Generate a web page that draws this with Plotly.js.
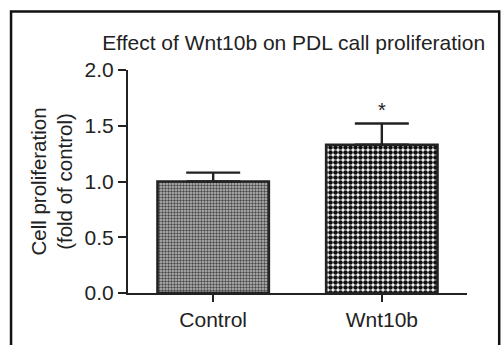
<!DOCTYPE html>
<html>
<head>
<meta charset="utf-8">
<script src="https://cdn.plot.ly/plotly-3.0.1.min.js"></script>
<style>html,body{margin:0;padding:0;background:#fff;}#chart{width:502px;height:345px;}</style>
</head>
<body>
<div id="chart"></div>
<script>
const categories = ["Control", "Wnt10b"];
const values = [1.0, 1.33];
const errorsUp = [0.08, 0.19];
const significance = ["", "*"];
const yTicks = [0, 0.5, 1.0, 1.5, 2.0];
const yTickLabels = ["0.0", "0.5", "1.0", "1.5", "2.0"];

const font = "Liberation Sans, Arial, sans-serif";

const trace = {
  type: "bar",
  x: categories,
  y: values,
  width: 0.66,
  marker: {
    color: "#ffffff",
    line: {color: "#222222", width: 2.6},
    pattern: {
      shape: [".", "."],
      fgcolor: ["#4a4a4a", "#111111"],
      bgcolor: ["#bdbdbd", "#ffffff"],
      size: [3, 5],
      solidity: [0.5, 0.65],
      fillmode: "replace"
    }
  },
  error_y: {
    type: "data",
    symmetric: false,
    array: errorsUp,
    arrayminus: [0, 0],
    color: "#222222",
    thickness: 2.4,
    width: 27
  },
  hoverinfo: "none"
};

const annotations = categories.map((c, i) => ({
  x: c, y: values[i] + errorsUp[i], yshift: 14,
  text: significance[i], showarrow: false,
  font: {family: font, size: 20, color: "#222"}
})).filter(a => a.text);

const layout = {
  width: 502, height: 345,
  margin: {l: 128, r: 35, t: 70, b: 52},
  paper_bgcolor: "#ffffff", plot_bgcolor: "#ffffff",
  showlegend: false,
  title: {
    text: "Effect of Wnt10b on PDL call proliferation",
    font: {family: font, size: 21, color: "#222"},
    x: 0.585, xanchor: "center", y: 0.875, yanchor: "middle"
  },
  xaxis: {
    type: "category",
    range: [-0.505, 1.505],
    showline: true, linecolor: "#222", linewidth: 2,
    ticks: "outside", ticklen: 7, tickwidth: 2, tickcolor: "#222",
    tickfont: {family: font, size: 21, color: "#222"},
    showgrid: false, zeroline: false, fixedrange: true
  },
  yaxis: {
    range: [0, 2.0],
    tickvals: yTicks, ticktext: yTickLabels,
    showline: true, linecolor: "#222", linewidth: 2,
    ticks: "outside", ticklen: 8, tickwidth: 2, tickcolor: "#222",
    tickfont: {family: font, size: 21, color: "#222"},
    showgrid: false, zeroline: false, fixedrange: true,
    title: {
      text: "Cell proliferation<br>(fold of control)",
      font: {family: font, size: 20.5, color: "#222"},
      standoff: 6
    }
  },
  annotations: annotations,
  shapes: [{
    type: "rect", xref: "paper", yref: "paper",
    x0: -0.345, x1: 1.095, y0: -0.3, y1: 1.262,
    line: {color: "#111", width: 2.5}, fillcolor: "rgba(0,0,0,0)", layer: "below"
  }]
};

Plotly.newPlot("chart", [trace], layout, {staticPlot: true, displayModeBar: false});
</script>
</body>
</html>
